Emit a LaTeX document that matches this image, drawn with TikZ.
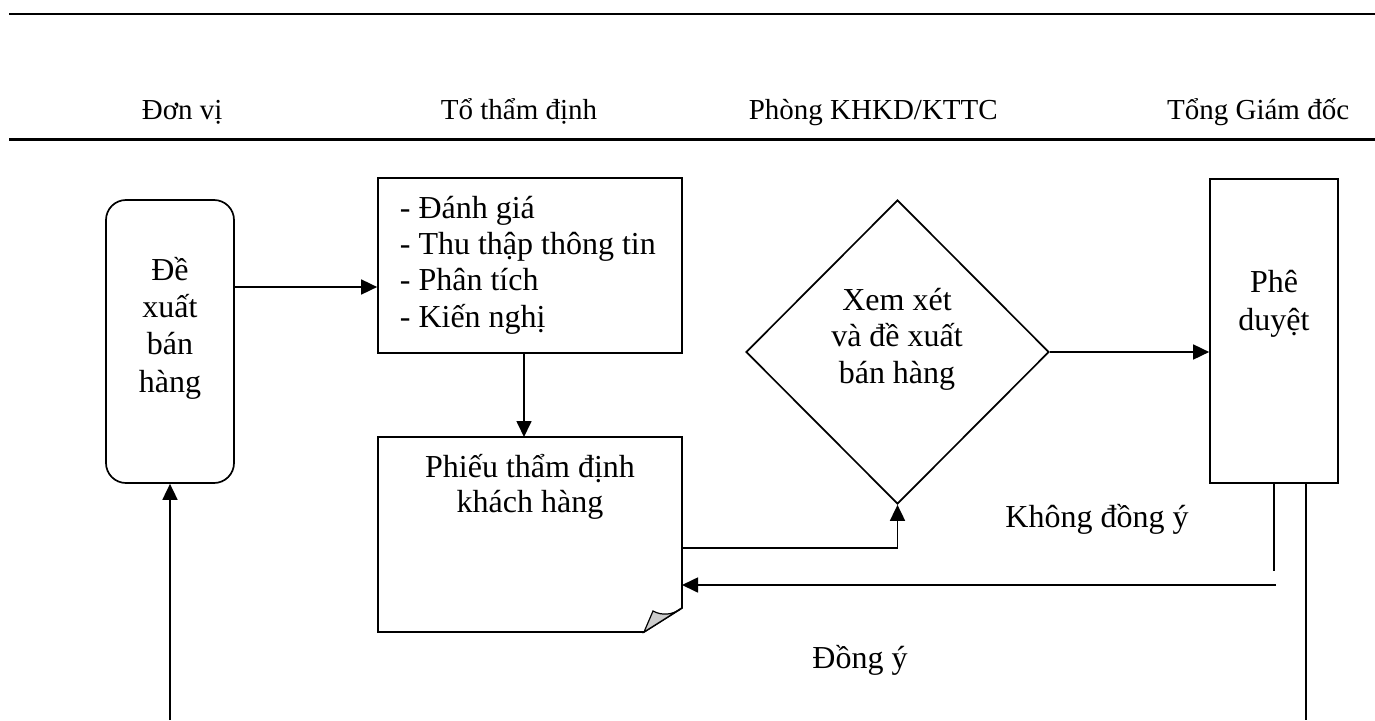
\documentclass[tikz,border=0pt]{standalone}
\usepackage{fontspec}
\setmainfont{Liberation Serif}
\usetikzlibrary{arrows.meta,shapes.geometric,calc}
\begin{document}
\begin{tikzpicture}[x=1pt,y=-1pt,
  line width=1.7pt,
  bodytxt/.style={font=\fontsize{32}{36.8}\selectfont, inner sep=0pt, align=center},
  hdrtxt/.style={font=\fontsize{29}{34}\selectfont, inner sep=0pt},
  arr/.style={-{Triangle[length=16pt,width=15pt]}},
  boxshape/.style={draw, inner sep=0pt},
]
\useasboundingbox (0,0) rectangle (1375,720);
% header rules
\coordinate (t1) at (9,14); \coordinate (t2) at (1375,14);
\coordinate (h1) at (9,139.5); \coordinate (h2) at (1375,139.5);
\draw[line width=2pt] (t1) -- (t2);
\draw[line width=3.3pt] (h1) -- (h2);
% header labels
\node[hdrtxt, anchor=base west] (hA) at (141,119) {Đơn vị};
\node[hdrtxt, anchor=base west] (hB) at (440,119) {Tổ thẩm định};
\node[hdrtxt, anchor=base west] (hC) at (748,119) {Phòng KHKD/KTTC};
\node[hdrtxt, anchor=base east] (hD) at (1350,119) {Tổng Giám đốc};
% shapes
\node[boxshape, rounded corners=20pt, minimum width=128pt, minimum height=283pt] (ro) at (170,341.5) {};
\node[bodytxt, anchor=base, font=\fontsize{32}{37.3}\selectfont] (rot) at (170,392) {Đề\\xuất\\bán\\hàng};
\node[boxshape, minimum width=304pt, minimum height=175pt] (b1) at (530,265.5) {};
\node[bodytxt, anchor=base west, align=left, font=\fontsize{32}{36.3}\selectfont] (b1t) at (399,327) {- Đánh giá\\- Thu thập thông tin\\- Phân tích\\- Kiến nghị};
% document shape
\coordinate (dNW) at (378,437); \coordinate (dNE) at (682,437);
\coordinate (dE) at (682,608); \coordinate (dS) at (644,632); \coordinate (dSW) at (378,632);
\draw[line join=miter] (dNW) -- (dNE) -- (dE) -- (dS) -- (dSW) -- cycle;
\filldraw[fill=black!20, line width=1.2pt] (dS) -- (653,611) .. controls (662,616) and (673,615) .. (dE) -- cycle;
\node[bodytxt, anchor=base, font=\fontsize{32}{35}\selectfont] (doct) at (530,512) {Phiếu thẩm định\\khách hàng};
% diamond
\node[draw, diamond, inner sep=0pt, minimum width=303pt, minimum height=304pt] (dia) at (897.5,352) {};
\node[bodytxt, anchor=base, font=\fontsize{32}{36.5}\selectfont] (diat) at (897,383) {Xem xét\\và đề xuất\\bán hàng};
% approval box
\node[boxshape, minimum width=128pt, minimum height=304pt] (pd) at (1274,331) {};
\node[bodytxt, anchor=base, font=\fontsize{32}{38}\selectfont] (pdt) at (1274,330) {Phê\\duyệt};
% labels
\node[bodytxt, anchor=base] (kdy) at (1097,527) {Không đồng ý};
\node[bodytxt, anchor=base] (dy) at (860,668) {Đồng ý};
% connectors
\draw[arr] (ro.east |- 0,287) -- (b1.west |- 0,287);
\draw[arr] (b1.south -| 524,0) -- (dNW -| 524,0);
\draw[arr] (dNE |- 0,548) -| (dia.south);
\draw[arr] (dia.east) -- (pd.west |- dia.east);
\coordinate (k1) at (1274,571);
\draw (pd.south -| k1) -- (k1);
\coordinate (k2) at (1276,585);
\draw[arr] (k2) -- (dNE |- k2);
\coordinate (g1) at (1306,720);
\draw (pd.south -| g1) -- (g1);
\coordinate (g2) at (170,720);
\draw[arr] (g2) -- (ro.south);
\end{tikzpicture}
\end{document}
